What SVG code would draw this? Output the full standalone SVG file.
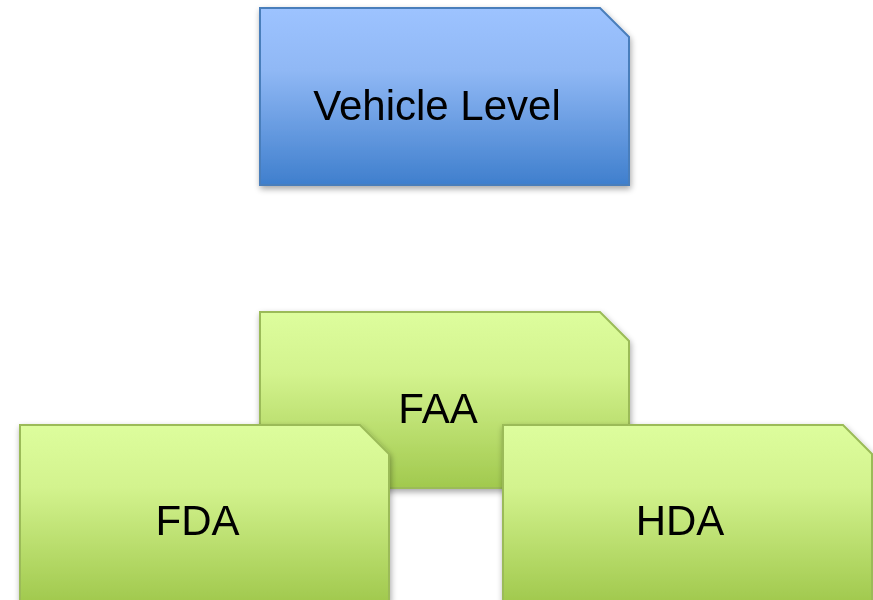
<svg xmlns="http://www.w3.org/2000/svg" width="873" height="600" viewBox="0 0 873 600">
  <defs>
    <linearGradient id="gBlue" x1="0" y1="0" x2="0" y2="1">
      <stop offset="0" stop-color="#9dc3ff"/>
      <stop offset="0.35" stop-color="#90b8f5"/>
      <stop offset="1" stop-color="#3f7fcd"/>
    </linearGradient>
    <linearGradient id="gGreen" x1="0" y1="0" x2="0" y2="1">
      <stop offset="0" stop-color="#ddfd9d"/>
      <stop offset="0.35" stop-color="#d3f38e"/>
      <stop offset="1" stop-color="#a1c94e"/>
    </linearGradient>
    <filter id="shadow" x="-10%" y="-10%" width="125%" height="130%">
      <feGaussianBlur in="SourceAlpha" stdDeviation="3"/>
      <feOffset dx="1" dy="3" result="b"/>
      <feComponentTransfer><feFuncA type="linear" slope="0.35"/></feComponentTransfer>
      <feMerge><feMergeNode/><feMergeNode in="SourceGraphic"/></feMerge>
    </filter>
  </defs>
  <style>
    .blue { fill: url(#gBlue); stroke: #4a7ebb; stroke-width: 2; }
    .green { fill: url(#gGreen); stroke: #9bbb59; stroke-width: 2; }
    .lbl { font-family: "Liberation Sans", Arial, sans-serif; font-size: 42px; fill: #000; text-anchor: middle; }
  </style>
  <rect width="873" height="600" fill="#ffffff"/>
  <g id="connectors"/>
  <g id="vehicle-level" filter="url(#shadow)">
    <path class="blue" d="M260,8 H600 L629,37 V185 H260 Z"/>
    <text class="lbl" x="437" y="120">Vehicle Level</text>
  </g>
  <g id="faa" filter="url(#shadow)">
    <path class="green" d="M260,312 H600 L629,341 V488 H260 Z"/>
    <text class="lbl" x="438" y="423">FAA</text>
  </g>
  <g id="fda" filter="url(#shadow)">
    <path class="green" d="M20,425 H360 L389,454 V602 H20 Z"/>
    <text class="lbl" x="197.5" y="535">FDA</text>
  </g>
  <g id="hda" filter="url(#shadow)">
    <path class="green" d="M503,425 H843 L872,454 V602 H503 Z"/>
    <text class="lbl" x="680" y="535">HDA</text>
  </g>
</svg>
